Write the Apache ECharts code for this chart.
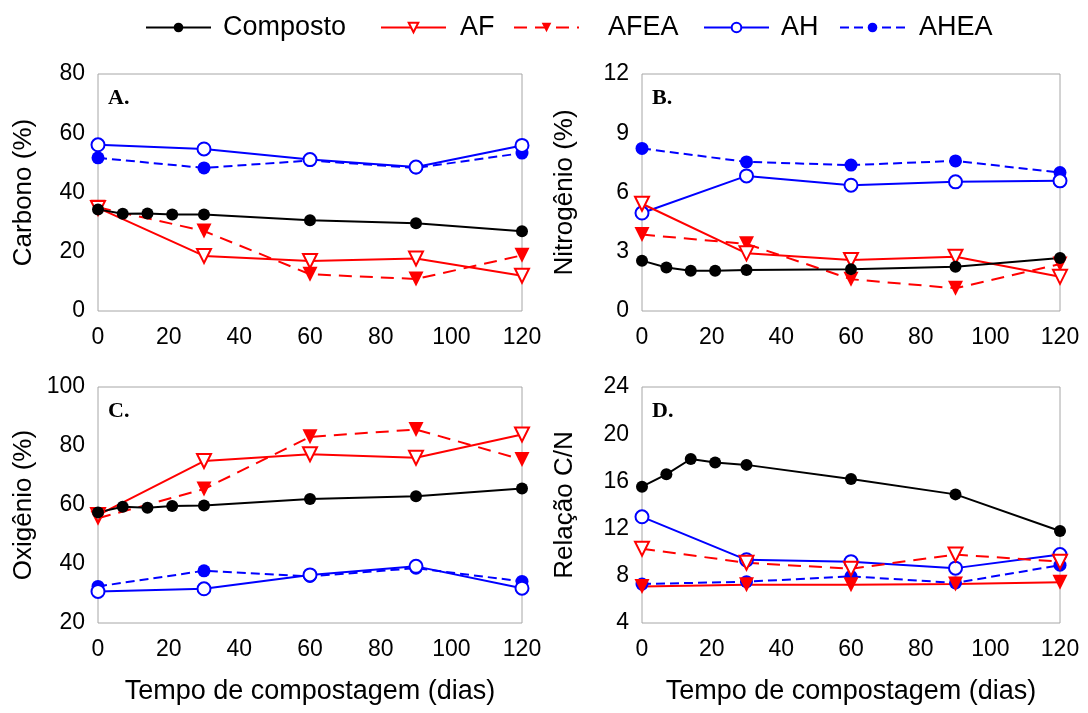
<!DOCTYPE html>
<html>
<head>
<meta charset="utf-8">
<script src="https://cdn.jsdelivr.net/npm/echarts@6/dist/echarts.min.js"></script>
<style>
  html, body { margin: 0; padding: 0; background: #fff; }
  #chart { width: 1088px; height: 713px; }
</style>
</head>
<body>
<div id="chart"></div>
<script>
// Sampling days
const diasComposto = [0, 7, 14, 21, 30, 60, 90, 120];
const diasAmostras = [0, 30, 60, 90, 120];

// A. Carbono (%)
const carbonoComposto = [34.3, 32.8, 32.9, 32.6, 32.6, 30.6, 29.6, 26.9];
const carbonoAF = [34.8, 18.6, 16.9, 17.7, 11.9];
const carbonoAFEA = [35.0, 27.0, 12.4, 10.8, 18.8];
const carbonoAH = [56.1, 54.7, 51.1, 48.6, 55.9];
const carbonoAHEA = [51.7, 48.3, 50.8, 48.3, 53.3];

// B. Nitrogênio (%)
const nitrogenioComposto = [2.55, 2.2, 2.04, 2.04, 2.07, 2.12, 2.24, 2.68];
const nitrogenioAF = [5.43, 2.92, 2.58, 2.75, 1.73];
const nitrogenioAFEA = [3.87, 3.4, 1.61, 1.15, 2.38];
const nitrogenioAH = [4.96, 6.84, 6.37, 6.54, 6.59];
const nitrogenioAHEA = [8.23, 7.55, 7.39, 7.6, 7.01];

// C. Oxigênio (%)
const oxigenioComposto = [57.5, 59.4, 59.1, 59.7, 59.8, 62.0, 63.0, 65.6];
const oxigenioAF = [56.6, 74.9, 77.2, 76.0, 83.9];
const oxigenioAFEA = [55.5, 65.4, 83.1, 85.6, 75.4];
const oxigenioAH = [30.7, 31.6, 36.3, 39.2, 31.8];
const oxigenioAHEA = [32.4, 37.7, 35.8, 38.6, 34.1];

// D. Relação C/N
const cnComposto = [15.55, 16.6, 17.9, 17.6, 17.4, 16.2, 14.9, 11.8];
const cnAF = [10.3, 9.1, 8.6, 9.8, 9.2];
const cnAFEA = [7.1, 7.25, 7.25, 7.3, 7.45];
const cnAH = [13.0, 9.35, 9.2, 8.65, 9.8];
const cnAHEA = [7.3, 7.5, 7.95, 7.4, 8.9];

// Axis settings per panel
const yMins = [0, 0, 20, 4];
const yMaxs = [80, 12, 100, 24];
const yIntervals = [20, 3, 20, 4];
const yNames = ['Carbono (%)', 'Nitrogênio (%)', 'Oxigênio (%)', 'Relação C/N'];
const panelLetters = ['A.', 'B.', 'C.', 'D.'];
const xName = 'Tempo de compostagem (dias)';
const seriesNames = ['Composto', 'AF', 'AFEA', 'AH', 'AHEA'];

const FONT = '"Liberation Sans", Arial, sans-serif';
const RED = '#ff0000', BLUE = '#0000ff', BLACK = '#000000';

const grids = [
  { left: 98, top: 74, width: 424, height: 237 },
  { left: 642, top: 74, width: 418, height: 237 },
  { left: 98, top: 387, width: 424, height: 236 },
  { left: 642, top: 387, width: 418, height: 236 }
];

function pairs(xs, ys) { return xs.map((x, i) => [x, ys[i]]); }

// Marker / line styles for each series
const styles = {
  Composto: { color: BLACK, symbol: 'circle', size: 12, filled: true, dash: 'solid', rotate: 0 },
  AF: { color: RED, symbol: 'triangle', size: 14, filled: false, dash: 'solid', rotate: 180 },
  AFEA: { color: RED, symbol: 'triangle', size: 15, filled: true, dash: [13, 8], rotate: 180 },
  AH: { color: BLUE, symbol: 'circle', size: 13, filled: false, dash: 'solid', rotate: 0 },
  AHEA: { color: BLUE, symbol: 'circle', size: 13, filled: true, dash: [9, 5], rotate: 0 }
};

function makeSeries(name, data, gi, dashOverride) {
  const s = styles[name];
  return {
    name: name,
    type: 'line',
    xAxisIndex: gi,
    yAxisIndex: gi,
    data: data,
    symbol: s.symbol,
    symbolSize: s.size,
    symbolRotate: s.rotate,
    showAllSymbol: true,
    animation: false,
    lineStyle: { color: s.color, width: 2, type: dashOverride !== undefined ? dashOverride : s.dash },
    itemStyle: {
      color: s.filled ? s.color : '#ffffff',
      borderColor: s.color,
      borderWidth: s.filled ? 0 : 2
    },
    emphasis: { disabled: true }
  };
}

const panels = [
  [carbonoComposto, carbonoAF, carbonoAFEA, carbonoAH, carbonoAHEA],
  [nitrogenioComposto, nitrogenioAF, nitrogenioAFEA, nitrogenioAH, nitrogenioAHEA],
  [oxigenioComposto, oxigenioAF, oxigenioAFEA, oxigenioAH, oxigenioAHEA],
  [cnComposto, cnAF, cnAFEA, cnAH, cnAHEA]
];

const series = [];
panels.forEach((p, gi) => {
  // Panel D has the AF / AFEA line styles swapped
  const afDash = gi === 3 ? [13, 8] : undefined;
  const afeaDash = gi === 3 ? 'solid' : undefined;
  series.push(makeSeries('AHEA', pairs(diasAmostras, p[4]), gi));
  series.push(makeSeries('AH', pairs(diasAmostras, p[3]), gi));
  series.push(makeSeries('AFEA', pairs(diasAmostras, p[2]), gi, afeaDash));
  series.push(makeSeries('AF', pairs(diasAmostras, p[1]), gi, afDash));
  series.push(makeSeries('Composto', pairs(diasComposto, p[0]), gi));
});

const xAxes = grids.map((g, i) => ({
  type: 'value',
  gridIndex: i,
  min: 0, max: 120, interval: 20,
  axisLine: { show: false },
  axisTick: { show: false },
  splitLine: { show: false },
  axisLabel: { color: BLACK, fontSize: 23, fontFamily: FONT, margin: 15 },
  name: i >= 2 ? xName : '',
  nameLocation: 'middle',
  nameGap: 55,
  nameTextStyle: { color: BLACK, fontSize: 27, fontFamily: FONT }
}));

const yAxes = grids.map((g, i) => ({
  type: 'value',
  gridIndex: i,
  min: yMins[i], max: yMaxs[i], interval: yIntervals[i],
  axisLine: { show: false },
  axisTick: { show: false },
  splitLine: { show: false },
  axisLabel: { color: BLACK, fontSize: 23, fontFamily: FONT, margin: 13 },
  name: yNames[i],
  nameLocation: 'middle',
  nameGap: i % 2 === 0 ? 61 : 64,
  nameTextStyle: { color: BLACK, fontSize: 26, fontFamily: FONT }
}));

const letters = grids.map((g, i) => ({
  type: 'text',
  left: g.left + 10,
  top: g.top + 13,
  style: { text: panelLetters[i], font: 'bold 22px "Liberation Serif", "Times New Roman", serif', fill: BLACK }
}));

// One legend block per entry, laid out along the top row
const legendLefts = [140, 375, 508, 698, 834];
const legendTextGaps = [7, 9, 24, 7, 9];
const legends = seriesNames.map((n, i) => ({
  data: [n],
  left: legendLefts[i],
  top: 9,
  itemWidth: 65,
  itemHeight: 12,
  selectedMode: false,
  textStyle: { color: BLACK, fontSize: 27, fontFamily: FONT, padding: [0, 0, 0, legendTextGaps[i]] }
}));

const chart = echarts.init(document.getElementById('chart'), null, { renderer: 'canvas' });
chart.setOption({
  backgroundColor: '#ffffff',
  animation: false,
  legend: legends,
  grid: grids.map(g => Object.assign({ show: true, borderColor: '#a6a6a6', borderWidth: 1, backgroundColor: 'transparent' }, g)),
  xAxis: xAxes,
  yAxis: yAxes,
  graphic: letters,
  series: series
});
</script>
</body>
</html>
